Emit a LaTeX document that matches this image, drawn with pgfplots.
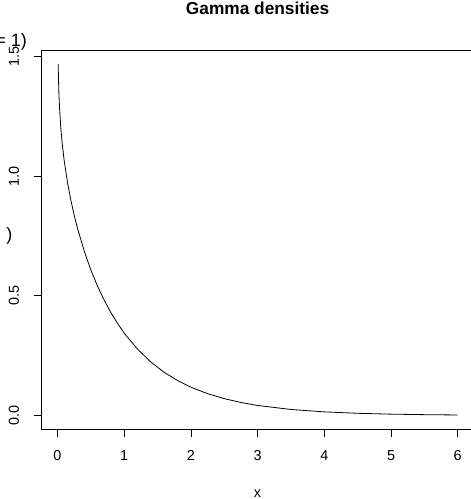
\documentclass[border=0pt]{standalone}
\usepackage{fontspec}
\setmainfont{Liberation Sans}
\usepackage{pgfplots}
\pgfplotsset{compat=1.18}

% density of the curve
\pgfplotstableread{
x      y
0.01   1.468
0.02   1.357
0.03   1.289
0.05   1.201
0.07   1.138
0.10   1.066
0.15   0.974
0.20   0.900
0.25   0.837
0.30   0.782
0.40   0.688
0.50   0.608
0.60   0.540
0.70   0.482
0.80   0.430
0.90   0.385
1.00   0.344
1.20   0.277
1.40   0.223
1.60   0.180
1.80   0.146
2.00   0.118
2.25   0.0910
2.50   0.0701
2.75   0.0541
3.00   0.0417
3.50   0.0249
4.00   0.0149
4.50   0.00894
5.00   0.00537
5.50   0.00323
6.00   0.00194
}\gammatab

\begin{document}
\begin{tikzpicture}
\useasboundingbox (0,0) rectangle (471pt,-499pt);
\fill[white] (0,0) rectangle (471pt,-499pt);

\begin{axis}[
    at={(41.5pt,-429pt)}, anchor=south west,
    scale only axis,
    width=432.2pt, height=379pt,
    xmin=-0.2396, xmax=6.2396,
    ymin=-0.0567, ymax=1.527,
    xtick={0,1,2,3,4,5,6},
    ytick={0,0.5,1,1.5},
    yticklabels={0.0,0.5,1.0,1.5},
    tick pos=left,
    tick align=outside,
    major tick length=7.5pt,
    tick style={black, line width=0.7pt},
    axis line style={line width=0.8pt},
    /pgf/number format/assume math mode=true,
    ticklabel style={font=\fontsize{14.4}{16}\selectfont},
    xticklabel style={anchor=center, yshift=-19pt},
    yticklabel style={rotate=90, anchor=center, yshift=20pt},
    title={Gamma densities},
    title style={font=\fontsize{17.3}{20}\bfseries, at={(0.5,1)}, anchor=base, yshift=30pt},
    xlabel={x},
    xlabel style={font=\fontsize{14.4}{16}\selectfont, at={(0.5,0)}, anchor=base, yshift=-68pt},
    clip=false,
]
\addplot[black, line width=0.8pt] table[x=x, y=y] {\gammatab};
\end{axis}

% remnants of the cut-off y label
\node[anchor=base east, inner sep=0pt, font=\fontsize{18}{20}\selectfont] at (27pt,-46pt) {= 1)};
\node[anchor=base east, inner sep=0pt, font=\fontsize{18}{20}\selectfont] at (12.5pt,-240pt) {)};
\end{tikzpicture}
\end{document}
